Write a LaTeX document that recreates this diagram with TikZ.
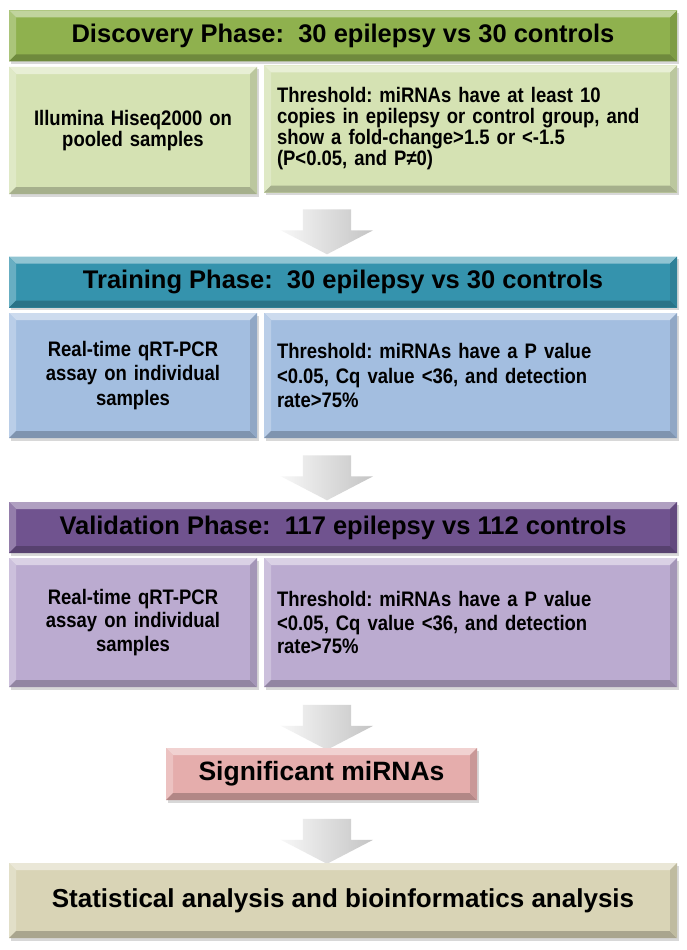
\documentclass[tikz,border=0pt]{standalone}
\usepackage{fontspec}
\setmainfont{Liberation Sans}
\newfontfamily\nar[FakeStretch=0.88]{Liberation Sans}
\usetikzlibrary{shapes.arrows,shadows,calc}
\definecolor{discH}{HTML}{8FB14E}
\definecolor{discS}{HTML}{D5E2B3}
\definecolor{trainH}{HTML}{3593AD}
\definecolor{trainS}{HTML}{A3BEE0}
\definecolor{valH}{HTML}{70538F}
\definecolor{valS}{HTML}{BBABD0}
\definecolor{sigC}{HTML}{E5ADAC}
\definecolor{finC}{HTML}{D9D4B6}
\definecolor{arrC}{HTML}{C4C4C4}
\tikzset{
  bev/.style 2 args={fill=#1, draw=none,
    drop shadow={opacity=0.3, shadow xshift=1.5pt, shadow yshift=-2.5pt},
    path picture={
      \path (path picture bounding box.north west) coordinate (pnw)
            (path picture bounding box.north east) coordinate (pne)
            (path picture bounding box.south west) coordinate (psw)
            (path picture bounding box.south east) coordinate (pse);
      \fill[#1!55!white] (pnw) -- (pne) -- ($(pne)+(-#2,-#2)$) -- ($(pnw)+(#2,-#2)$) -- cycle;
      \fill[#1!75!white] (pnw) -- (psw) -- ($(psw)+(#2,#2)$) -- ($(pnw)+(#2,-#2)$) -- cycle;
      \fill[#1!78!black] (psw) -- (pse) -- ($(pse)+(-#2,#2)$) -- ($(psw)+(#2,#2)$) -- cycle;
      \fill[#1!88!black] (pne) -- (pse) -- ($(pse)+(-#2,#2)$) -- ($(pne)+(-#2,-#2)$) -- cycle;
    }},
  header/.style={bev={#1}{7pt}, minimum width=668pt, minimum height=51pt, inner sep=0pt,
    font=\bfseries\fontsize{25.5}{28}\selectfont},
  leftbox/.style={bev={#1}{7pt}, minimum width=248pt, inner sep=0pt, text width=240pt, align=center,
    font=\nar\bfseries\fontsize{21}{21}\selectfont},
  rightbox/.style={bev={#1}{7pt}, minimum width=413pt, inner xsep=13pt, inner ysep=0pt, text width=387pt, align=left,
    font=\nar\bfseries\fontsize{21}{21}\selectfont},
  garrow/.style={single arrow, draw=none, rotate=-90, minimum height=45pt, minimum width=92pt,
    single arrow head extend=22pt, single arrow head indent=0pt, single arrow tip angle=125,
    inner xsep=0pt, inner ysep=24pt,
    left color=white!94!gray, right color=arrC},
}
\begin{document}
\frenchspacing
\begin{tikzpicture}[x=1pt,y=-1pt]
\useasboundingbox[fill=white] (0,0) rectangle (686,950);
% Discovery
\node[header=discH] (dH) at (343,36) {Discovery Phase:\; 30 epilepsy vs 30 controls};
\node[leftbox=discS, minimum height=127pt] (dL) at (133,130.5) {Illumina Hiseq2000 on\\pooled samples};
\node[rightbox=discS, minimum height=127pt] (dR) at (470.5,129) {Threshold: miRNAs have at least 10\\copies in epilepsy or control group, and\\show a fold-change>1.5 or <-1.5\\(P<0.05, and P≠0)};
\node[garrow] (a1) at (327,225.5) {};
% Training
\node[header=trainH] (tH) at (343,282) {Training Phase:\; 30 epilepsy vs 30 controls};
\node[leftbox=trainS, minimum height=125pt, font=\nar\bfseries\fontsize{21}{24.5}\selectfont] (tL) at (133,375.5) {Real-time qRT-PCR\\assay on individual\\samples};
\node[rightbox=trainS, minimum height=125pt, font=\nar\bfseries\fontsize{21}{24.5}\selectfont] (tR) at (470.5,375.5) {Threshold: miRNAs have a P value\\<0.05, Cq value <36, and detection\\rate>75\%};
\node[garrow] (a2) at (327,471.5) {};
% Validation
\node[header=valH] (vH) at (343,527.5) {Validation Phase:\; 117 epilepsy vs 112 controls};
\node[leftbox=valS, minimum height=129pt, font=\nar\bfseries\fontsize{21}{23.5}\selectfont] (vL) at (133,622.5) {Real-time qRT-PCR\\assay on individual\\samples};
\node[rightbox=valS, minimum height=129pt, font=\nar\bfseries\fontsize{21}{23.5}\selectfont] (vR) at (470.5,622.5) {Threshold: miRNAs have a P value\\<0.05, Cq value <36, and detection\\rate>75\%};
\node[garrow] (a3) at (327,721) {};
% Significant
\node[bev={sigC}{7pt}, minimum width=311pt, minimum height=52pt, inner sep=0pt,
  font=\bfseries\fontsize{26.5}{28}\selectfont] (sig) at (321.5,774) {Significant miRNAs};
\node[garrow] (a4) at (327,835) {};
% Final
\node[bev={finC}{7pt}, minimum width=668pt, minimum height=75pt, inner sep=0pt,
  font=\bfseries\fontsize{26}{28}\selectfont] (fin) at (343,900.5) {Statistical analysis and bioinformatics analysis};
\end{tikzpicture}
\end{document}
